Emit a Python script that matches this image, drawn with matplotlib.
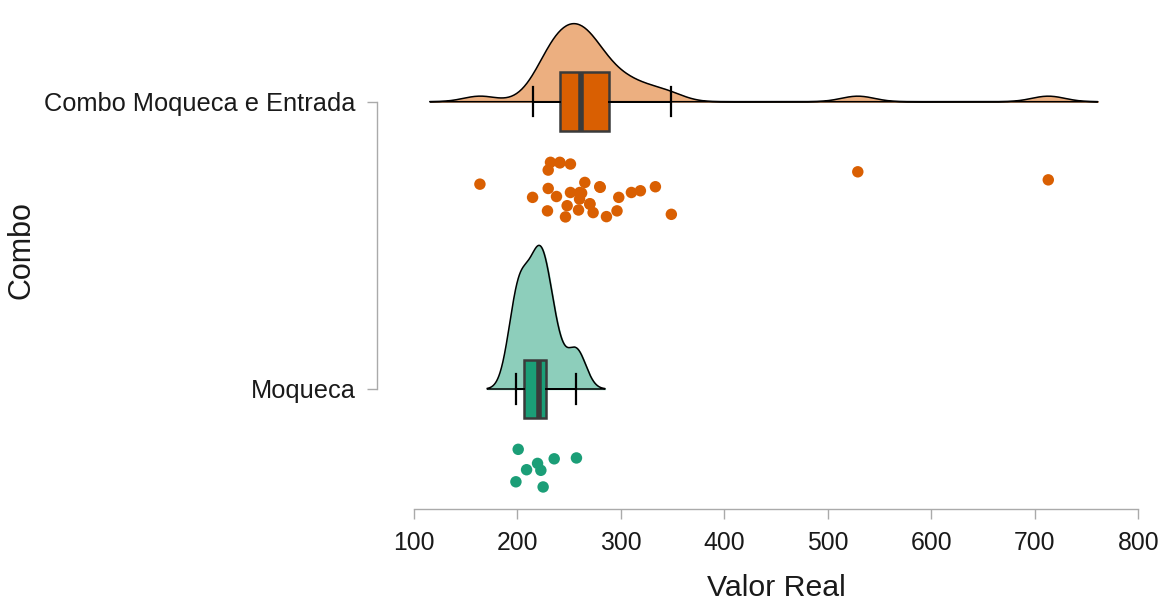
import numpy as np
import matplotlib
matplotlib.use("Agg")
import matplotlib.pyplot as plt

plt.rcParams['font.family'] = ['Liberation Sans', 'DejaVu Sans']

categorias = ['Moqueca', 'Combo Moqueca e Entrada']

# valores (alguns pontos ficam escondidos atras de outros)
valor_combo = [163.7, 229.7, 231.9, 240.9, 251.2, 214.6, 229.7, 237.7, 251.2, 260.2,
               265.1, 279.5, 297.9, 310.1, 318.8, 333.3, 229.0, 248.0, 246.4, 259.0,
               269.9, 273.1, 286.0, 296.2, 348.7, 260.0, 528.9, 713.0,
               241.0, 262.0, 270.0, 280.0]
jitter_combo = [-0.287, -0.238, -0.211, -0.211, -0.217, -0.333, -0.302, -0.330, -0.316, -0.316,
                -0.281, -0.296, -0.333, -0.316, -0.310, -0.296, -0.380, -0.362, -0.401, -0.377,
                -0.357, -0.386, -0.400, -0.380, -0.392, -0.339, -0.244, -0.272,
                -0.213, -0.318, -0.355, -0.298]

valor_moqueca = [200.7, 235.5, 257.0, 219.4, 208.8, 222.6, 198.5, 224.8]
jitter_moqueca = [-0.210, -0.243, -0.240, -0.259, -0.281, -0.283, -0.323, -0.341]

cores = ['#1B9E77', '#D95F02']
cores_claras = ['#8DCEBB', '#ECAF80']


def kde(x, n=512):
    x = np.asarray(x)
    q75, q25 = np.percentile(x, [75, 25])
    bw = 0.9 * min(x.std(ddof=1), (q75 - q25) / 1.34) * len(x) ** -0.2
    grid = np.linspace(x.min() - 3 * bw, x.max() + 3 * bw, n)
    d = np.exp(-0.5 * ((grid[:, None] - x[None, :]) / bw) ** 2).sum(axis=1)
    d /= len(x) * bw * np.sqrt(2 * np.pi)
    return grid, d


fig = plt.figure(figsize=(11.63, 6.05), dpi=100)
ax = fig.add_axes([414 / 1163, 96 / 605, 724.3 / 1163, 504 / 605])

dados = [valor_moqueca, valor_combo]
jitters = [jitter_moqueca, jitter_combo]

dens = [kde(v) for v in dados]
escala = 0.5 / max(d.max() for _, d in dens)

for i, (g, d) in enumerate(dens):
    ax.fill_between(g, i, i + d * escala, color=cores_claras[i], zorder=1)
    ax.plot(np.r_[g, g[::-1]], np.r_[i + d * escala, np.full(len(g), i)],
            color='black', lw=1.1, zorder=2)

for i, v in enumerate(dados):
    ax.boxplot(v, positions=[i], orientation='horizontal', widths=0.205,
               showfliers=False, patch_artist=True,
               boxprops=dict(facecolor=cores[i], edgecolor='#3a3a3a', lw=1.8),
               medianprops=dict(color='#3a3a3a', lw=4, solid_capstyle='butt'),
               whiskerprops=dict(color='black', lw=1.4),
               capprops=dict(color='black', lw=1.6),
               zorder=3)
    ax.scatter(v, i + np.array(jitters[i]), s=68, color=cores[i],
               edgecolors='none', zorder=3)

ax.set_xlim(100, 800)
ax.set_ylim(-0.4177, 1.3366)
ax.set_xticks(range(100, 801, 100))
ax.set_yticks([0, 1])
ax.set_yticklabels(categorias)

for s in ['top', 'right']:
    ax.spines[s].set_visible(False)
ax.spines['left'].set_position(('outward', 26.6))
ax.spines['left'].set_bounds(0, 1)
ax.spines['bottom'].set_bounds(100, 800)
for s in ['left', 'bottom']:
    ax.spines[s].set_color('#aaaaaa')
    ax.spines[s].set_linewidth(1.0)
ax.tick_params(axis='both', colors='#aaaaaa', labelcolor='#1a1a1a',
               length=7.5, width=1.0, pad=8)
ax.tick_params(axis='x', labelsize=17.8)
ax.tick_params(axis='y', labelsize=18.3)

ax.set_xlabel('Valor Real', fontsize=21.8, color='#1a1a1a')
ax.set_ylabel('Combo', fontsize=22, color='#1a1a1a')
ax.xaxis.set_label_coords(0.5, -0.128)
ax.yaxis.set_label_coords((37 - 414) / 724.3, (509 - 250) / 504)

fig.savefig('out.png', dpi=100)
